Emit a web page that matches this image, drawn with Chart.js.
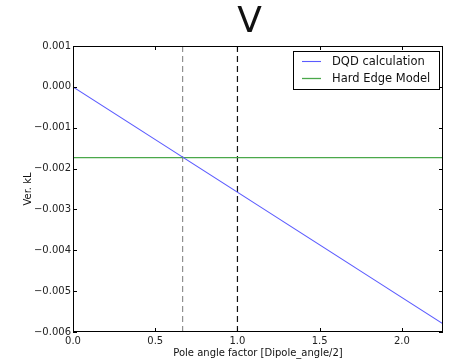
<!DOCTYPE html>
<html>
<head>
<meta charset="utf-8">
<script src="https://cdn.jsdelivr.net/npm/chart.js@4/dist/chart.umd.min.js"></script>
<style>
  html, body { margin: 0; padding: 0; background: #ffffff; }
  #wrap { width: 449px; height: 361px; }
</style>
</head>
<body>
<div id="wrap"><canvas id="c" width="449" height="361"></canvas></div>
<script>
// Pole angle factor sweep: vertical kL from the DQD calculation vs. hard edge model
const titleText = 'V';
const xTitle = 'Pole angle factor [Dipole_angle/2]';
const yTitle = 'Ver. kL';

const dqdX = [0.0, 2.25];
const dqdY = [0.0, -0.0058];
const hardEdgeX = [0.0, 2.25];
const hardEdgeY = [-0.00173, -0.00173];

// vertical reference markers (thin grey, black)
const markerX = [0.667, 1.0];
const markerColor = ['#7a7a7a', '#111111'];

const xTicks = [0.0, 0.5, 1.0, 1.5, 2.0];
const yTicks = [0.001, 0.000, -0.001, -0.002, -0.003, -0.004, -0.005, -0.006];
const xRange = [0.0, 2.25];
const yRange = [-0.006, 0.001];

const FONT = 'DejaVu Sans, sans-serif';

function pts(xs, ys) { return xs.map((x, i) => ({ x: x, y: ys[i] })); }
function fmtY(v) {
  const r = Math.round(v * 1000) / 1000;
  if (Math.abs(r) < 1e-12) return '0.000';
  return (r < 0 ? '\u2212' : '') + Math.abs(r).toFixed(3);
}

const datasets = [
  { label: 'DQD calculation', data: pts(dqdX, dqdY), borderColor: '#5b5bff', borderWidth: 1.1, legend: true },
  { label: 'Hard Edge Model', data: pts(hardEdgeX, hardEdgeY), borderColor: '#4aa84a', borderWidth: 1.3, legend: true }
];
markerX.forEach((mx, i) => {
  datasets.push({
    label: 'marker' + i,
    data: [{ x: mx, y: yRange[1] }, { x: mx, y: yRange[0] }],
    borderColor: markerColor[i],
    borderWidth: i === 0 ? 1 : 1.2,
    borderDash: [6, 4],
    legend: false
  });
});
datasets.forEach(d => { d.pointRadius = 0; d.fill = false; d.tension = 0; });

const frame = {
  id: 'frame',
  afterDatasetsDraw(chart) {
    const { ctx, chartArea: a, scales } = chart;
    ctx.save();
    // plot frame
    ctx.strokeStyle = '#000';
    ctx.lineWidth = 1;
    ctx.strokeRect(Math.round(a.left) + 0.5, Math.round(a.top) + 0.5,
                   Math.round(a.right - a.left) - 1, Math.round(a.bottom - a.top) - 1);
    // inward ticks on all four sides
    const L = 4;
    ctx.beginPath();
    xTicks.forEach(v => {
      const px = Math.round(scales.x.getPixelForValue(v)) + 0.5;
      ctx.moveTo(px, a.bottom); ctx.lineTo(px, a.bottom - L);
      ctx.moveTo(px, a.top); ctx.lineTo(px, a.top + L);
    });
    yTicks.forEach(v => {
      const py = Math.round(scales.y.getPixelForValue(v)) + 0.5;
      ctx.moveTo(a.left, py); ctx.lineTo(a.left + L, py);
      ctx.moveTo(a.right, py); ctx.lineTo(a.right - L, py);
    });
    ctx.stroke();

    // legend box, upper right
    const bx = 293.5, by = 51.5, bw = 146, bh = 38;
    ctx.fillStyle = '#fff';
    ctx.fillRect(bx, by, bw, bh);
    ctx.strokeStyle = '#000';
    ctx.strokeRect(bx, by, bw, bh);
    ctx.font = '11.5px ' + FONT;
    ctx.textBaseline = 'middle';
    ctx.textAlign = 'left';
    chart.data.datasets.filter(d => d.legend).forEach((d, i) => {
      const y = 61 + i * 17;
      ctx.strokeStyle = d.borderColor;
      ctx.lineWidth = d.borderWidth;
      ctx.beginPath();
      ctx.moveTo(302, y + 0.5); ctx.lineTo(321, y + 0.5);
      ctx.stroke();
      ctx.fillStyle = '#111';
      ctx.fillText(d.label, 332, y + 1);
    });

    // title and axis titles
    ctx.fillStyle = '#111';
    ctx.font = '36px ' + FONT;
    ctx.textAlign = 'center';
    ctx.textBaseline = 'alphabetic';
    ctx.fillText(titleText, 249.5, 32);

    ctx.font = '10px ' + FONT;
    ctx.fillText(xTitle, (a.left + a.right) / 2, 355.5);

    ctx.translate(30.5, (a.top + a.bottom) / 2);
    ctx.rotate(-Math.PI / 2);
    ctx.textBaseline = 'alphabetic';
    ctx.fillText(yTitle, 0, 0);
    ctx.restore();
  }
};

new Chart(document.getElementById('c'), {
  type: 'line',
  data: { datasets: datasets },
  options: {
    responsive: false,
    animation: false,
    events: [],
    layout: { padding: { top: 46, right: 6, left: 0, bottom: 0 } },
    plugins: { legend: { display: false }, title: { display: false }, tooltip: { enabled: false } },
    scales: {
      x: {
        type: 'linear',
        min: xRange[0], max: xRange[1],
        afterBuildTicks: s => { s.ticks = xTicks.map(v => ({ value: v })); },
        afterFit: s => { s.height = 29; },
        grid: { display: false, drawTicks: false },
        border: { display: false },
        ticks: {
          padding: 3,
          maxRotation: 0,
          autoSkip: false,
          color: '#222',
          font: { family: FONT, size: 10 },
          callback: v => Number(v).toFixed(1)
        }
      },
      y: {
        type: 'linear',
        min: yRange[0], max: yRange[1],
        afterBuildTicks: s => { s.ticks = yTicks.map(v => ({ value: v })); },
        afterFit: s => { s.width = 73; },
        grid: { display: false, drawTicks: false },
        border: { display: false },
        ticks: {
          padding: 2,
          autoSkip: false,
          color: '#222',
          font: { family: FONT, size: 10 },
          callback: v => fmtY(v)
        }
      }
    }
  },
  plugins: [frame]
});
</script>
</body>
</html>
